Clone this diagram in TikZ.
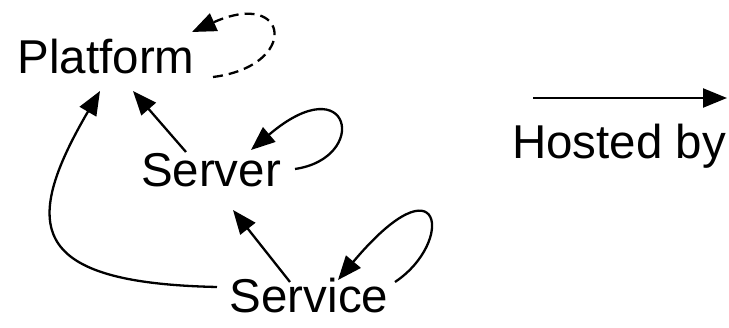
\documentclass[tikz,border=0pt]{standalone}
\usepackage{fontspec}
\setmainfont{Liberation Sans}
\usetikzlibrary{arrows.meta,positioning}
\tikzset{>={Triangle[length=24pt,width=19pt]}}

\begin{document}
\begin{tikzpicture}[x=1pt, y=1pt,
                lbl/.style={inner sep=0pt, anchor=base, font=\fontsize{47.5}{52}\selectfont},
                host/.style={->, line width=2.3pt},
                selfhost/.style={->, line width=2.3pt, dash pattern=on 10pt off 6pt}]
  \useasboundingbox (0,0) rectangle (729,328);

  \node [lbl] (plat) at (106,254) {Platform};
  \node [lbl] (srv)  at (211,141) {Server};
  \node [lbl] (svc)  at (309,15)  {Service};
  \node [lbl] (key)  at (619,169) {Hosted by};

  % legend arrow
  \coordinate (keyS) at (533,230);
  \coordinate (keyE) at (727,230);
  \draw[host] (keyS) -- (keyE);

  % hosted-by edges
  \draw[host] ([shift={(-25,35)}]srv.base) -- ([shift={(27,-17)}]plat.base);
  \draw[host] ([shift={(-19,31)}]svc.base) -- ([shift={(22,-23)}]srv.base);
  \draw[host] ([shift={(-92,26)}]svc.base)
      .. controls +(-187,4) and +(-80,-137) .. ([shift={(-6,-17)}]plat.base);

  % self loops
  \draw[host] ([shift={(84,18)}]srv.base)
      .. controls +(75,11) and +(100,85) .. ([shift={(40,37)}]srv.base);
  \draw[host] ([shift={(86,31)}]svc.base)
      .. controls +(60,40) and +(105,125) .. ([shift={(29,33)}]svc.base);
  \draw[selfhost] ([shift={(107,-3)}]plat.base)
      .. controls +(87,11) and +(98,44) .. ([shift={(86,42)}]plat.base);
\end{tikzpicture}
\end{document}
